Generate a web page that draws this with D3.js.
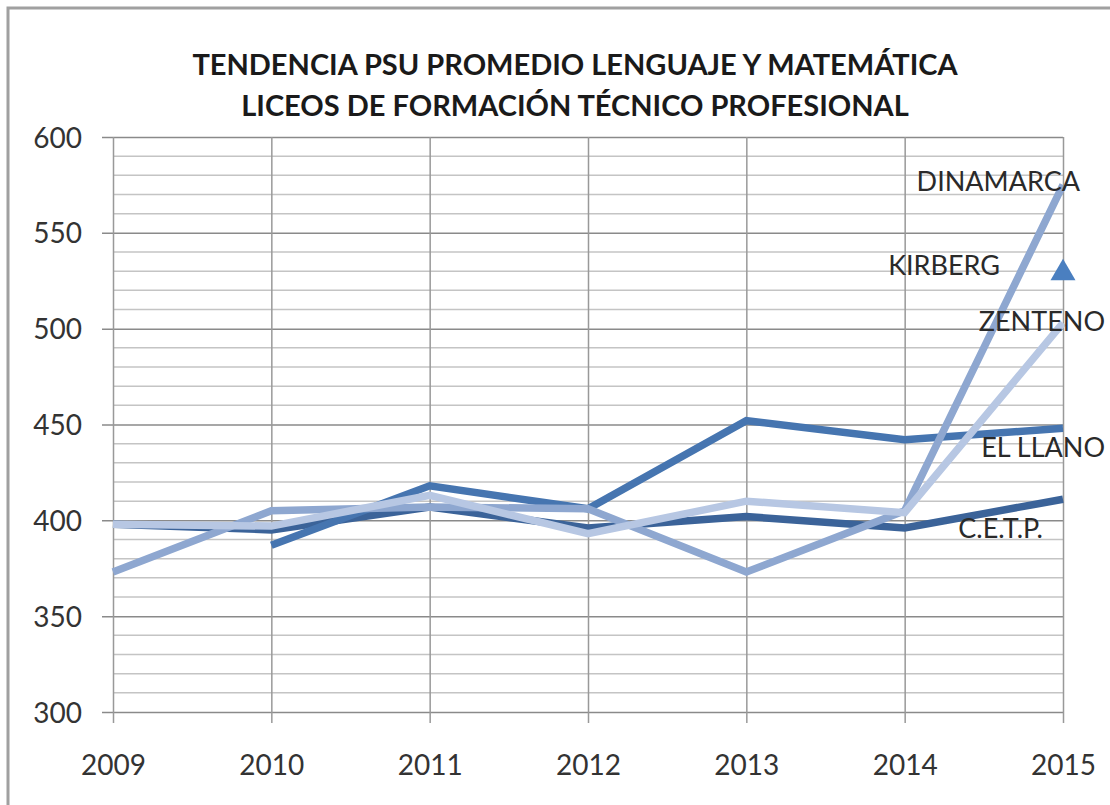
<!DOCTYPE html>
<html>
<head>
<meta charset="utf-8">
<script src="https://cdn.jsdelivr.net/npm/d3@7"></script>
<style>
  body { margin: 0; background: #fff; }
  text { font-family: Lato, "Open Sans", sans-serif; }
</style>
</head>
<body>
<div id="viz"></div>
<script>
// data
var years = [2009, 2010, 2011, 2012, 2013, 2014, 2015];
var cetp      = [398, 395, 407, 396, 402, 396, 411];
var elLlano   = [null, 387, 418, 406, 452, 442, 448];
var dinamarca = [373, 405, 407, 406, 373, 405, 575];
var zenteno   = [398, 397, 413, 393, 410, 404, 503];
var kirberg   = [null, null, null, null, null, null, 529];
var titleLines = ["TENDENCIA PSU PROMEDIO LENGUAJE Y MATEMÁTICA", "LICEOS DE FORMACIÓN TÉCNICO PROFESIONAL"];
var yTicks = [300, 350, 400, 450, 500, 550, 600];

var W = 1110, H = 805;
var margin = { top: 137, right: 47, bottom: 93, left: 113 };
var width = W - margin.left - margin.right;
var height = H - margin.top - margin.bottom;

var svg = d3.select('#viz').append('svg')
    .attr('width', W)
    .attr('height', H);

// frame
svg.append('rect')
    .attr('x', 8).attr('y', 8)
    .attr('width', W + 20).attr('height', H + 20)
    .attr('fill', 'none')
    .attr('stroke', '#a0a0a0')
    .attr('stroke-width', 3);

svg.selectAll('.title')
    .data(titleLines)
    .enter().append('text')
    .attr('class', 'title')
    .attr('x', 575)
    .attr('y', function(d, i) { return 75 + i * 41; })
    .attr('text-anchor', 'middle')
    .style('font-size', '29px')
    .style('font-weight', 'bold')
    .attr('fill', '#1a1a1a')
    .text(function(d) { return d; });

var g = svg.append('g')
    .attr('transform', 'translate(' + margin.left + ',' + margin.top + ')');

var x = d3.scalePoint().domain(years).range([0, width]);
var y = d3.scaleLinear().domain([300, 600]).range([height, 0]);

// minor grid every 10
g.append('g')
    .selectAll('line')
    .data(d3.range(300, 601, 10).filter(function(v) { return v % 50 != 0; }))
    .enter().append('line')
    .attr('x1', 0).attr('x2', width)
    .attr('y1', function(d) { return y(d); })
    .attr('y2', function(d) { return y(d); })
    .attr('stroke', '#c4c4c4')
    .attr('stroke-width', 1.5);

// y axis with major grid
g.append('g')
    .attr('class', 'y-axis')
    .call(d3.axisLeft(y).tickValues(yTicks).tickSizeInner(-width).tickSizeOuter(0))
    .call(function(a) {
        a.select('.domain').remove();
        a.selectAll('.tick line').attr('stroke', '#8a8a8a').attr('stroke-width', 1.5).attr('x1', -11);
        a.selectAll('.tick text').style('font-size', '28px').attr('fill', '#333').attr('dy', '0.36em').attr('x', -31);
    });

// vertical grid + x axis
g.append('g')
    .attr('class', 'x-axis')
    .attr('transform', 'translate(0,' + height + ')')
    .call(d3.axisBottom(x).tickSizeInner(-height).tickSizeOuter(0))
    .call(function(a) {
        a.select('.domain').remove();
        a.selectAll('.tick line').attr('stroke', '#999').attr('stroke-width', 1.5).attr('y1', 11);
        a.selectAll('.tick text').style('font-size', '28px').attr('fill', '#333').attr('y', 63).attr('dy', 0);
    });

var line = d3.line()
    .defined(function(d) { return d[1] != null; })
    .x(function(d) { return x(d[0]); })
    .y(function(d) { return y(d[1]); });

var series = [
    { name: 'C.E.T.P.', values: cetp, color: '#3b6399' },
    { name: 'EL LLANO', values: elLlano, color: '#4675b0' },
    { name: 'DINAMARCA', values: dinamarca, color: '#8ea7d0' },
    { name: 'ZENTENO', values: zenteno, color: '#b7c7e3' }
];

series.forEach(function(s) {
    var pts = years.map(function(yr, i) { return [yr, s.values[i]]; });
    g.append('path')
        .attr('d', line(pts))
        .attr('fill', 'none')
        .attr('stroke', s.color)
        .attr('stroke-width', 7.5)
        .attr('stroke-linejoin', 'miter');
});

// KIRBERG marker
var kIdx = kirberg.length - 1;
g.append('path')
    .attr('d', d3.symbol().type(d3.symbolTriangle).size(270)())
    .attr('transform', 'translate(' + x(years[kIdx]) + ',' + y(kirberg[kIdx]) + ')')
    .attr('fill', '#4a7fc0');

// labels
var labels = [
    { t: 'DINAMARCA', v: 577, dx: 17 },
    { t: 'KIRBERG', v: 533, dx: -63 },
    { t: 'ZENTENO', v: 504, dx: 42 },
    { t: 'EL LLANO', v: 438, dx: 42 },
    { t: 'C.E.T.P.', v: 396, dx: -20 }
];
g.selectAll('.lbl')
    .data(labels)
    .enter().append('text')
    .attr('class', 'lbl')
    .attr('x', function(d) { return x(2015) + d.dx; })
    .attr('y', function(d) { return y(d.v); })
    .attr('dy', '0.36em')
    .attr('text-anchor', 'end')
    .style('font-size', '27px')
    .attr('fill', '#2a2a2a')
    .text(function(d) { return d.t; });
</script>
</body>
</html>
